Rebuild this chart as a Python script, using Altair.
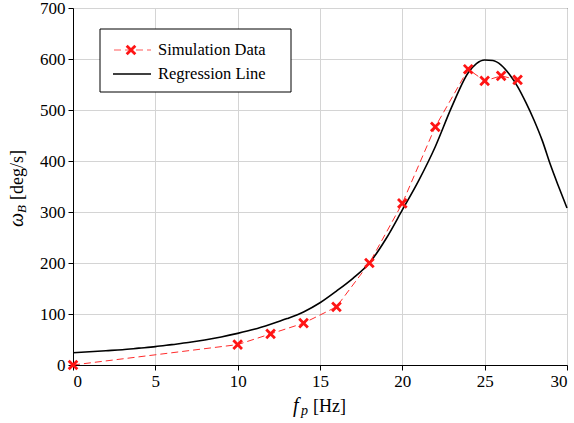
import altair as alt
import pandas as pd

# Simulation data
sim_f = [0, 10, 12, 14, 16, 18, 20, 22, 24, 25, 26, 27]
sim_w = [0, 40, 61, 82, 114, 200, 317, 467, 580, 557, 567, 559]

# Regression line samples
reg_f = [0, 1, 2, 3, 4, 5, 6, 7, 8, 9, 10, 11, 12, 13, 14, 15, 16, 17, 18, 19,
         20, 21, 22, 23, 24, 24.5, 25, 25.5, 26, 26.5, 27, 27.5, 28, 28.5, 29, 29.5, 30]
reg_w = [24, 26, 28, 30, 33, 36, 40, 44, 49, 55, 62, 70, 80, 91, 104, 122, 145, 170, 200, 247,
         304, 362, 428, 506, 573, 591, 598, 597, 588, 570, 546, 515, 480, 440, 392, 349, 308]

legend_labels = ["Simulation Data", "Regression Line"]
x_ticks = [0, 5, 10, 15, 20, 25, 30]
y_ticks = [0, 100, 200, 300, 400, 500, 600, 700]

FONT = "Liberation Serif"
RED = "#ff1414"

sim = pd.DataFrame({"f": sim_f, "w": sim_w})
reg = pd.DataFrame({"f": reg_f, "w": reg_w})
one = pd.DataFrame({"a": [0]})

xs = alt.Scale(domain=[0, 30], nice=False, zero=False)
ys = alt.Scale(domain=[0, 700], nice=False)
xax = alt.Axis(values=x_ticks, title=None, grid=True, labelFont=FONT)
yax = alt.Axis(values=y_ticks, title=None, grid=True, labelFont=FONT)

reg_line = alt.Chart(reg).mark_line(color="black", strokeWidth=1.6, interpolate="monotone").encode(
    x=alt.X("f:Q", scale=xs, axis=xax),
    y=alt.Y("w:Q", scale=ys, axis=yax),
)

sim_line = alt.Chart(sim).mark_line(color=RED, strokeWidth=1, strokeDash=[7, 4], opacity=0.9).encode(
    x=alt.X("f:Q", scale=xs),
    y=alt.Y("w:Q", scale=ys),
)

CROSS = "M-1,-1L1,1M1,-1L-1,1"
sim_pts = alt.Chart(sim).mark_point(shape=CROSS, filled=False, color=RED, strokeWidth=2.8, size=75, opacity=1).encode(
    x=alt.X("f:Q", scale=xs),
    y=alt.Y("w:Q", scale=ys),
)

# Legend (manual)
box = alt.Chart(one).mark_rect(fill="white", stroke="black", strokeWidth=1).encode(
    x=alt.value(27), x2=alt.value(218), y=alt.value(21), y2=alt.value(84)
)
leg_l1 = alt.Chart(one).mark_rule(color=RED, strokeWidth=1.2, strokeDash=[7, 4], strokeDashOffset=-1, opacity=0.7).encode(
    x=alt.value(40), x2=alt.value(78), y=alt.value(42)
)
leg_p1 = alt.Chart(one).mark_point(shape=CROSS, filled=False, color=RED, strokeWidth=2.8, size=75, opacity=1).encode(
    x=alt.value(58), y=alt.value(42)
)
leg_l2 = alt.Chart(one).mark_rule(color="black", strokeWidth=1.6).encode(
    x=alt.value(40), x2=alt.value(78), y=alt.value(66)
)
leg_t1 = alt.Chart(one).mark_text(text=legend_labels[0], align="left", baseline="middle", font=FONT, fontSize=16.5, color="black").encode(
    x=alt.value(85), y=alt.value(42)
)
leg_t2 = alt.Chart(one).mark_text(text=legend_labels[1], align="left", baseline="middle", font=FONT, fontSize=16.5, color="black").encode(
    x=alt.value(85), y=alt.value(66)
)

# Axis titles with math italics
xt_f = alt.Chart(one).mark_text(text="f", align="left", baseline="alphabetic", font=FONT, fontStyle="italic", fontSize=20, color="black").encode(
    x=alt.value(220), y=alt.value(404))
xt_p = alt.Chart(one).mark_text(text="p", align="left", baseline="alphabetic", font=FONT, fontStyle="italic", fontSize=14, color="black").encode(
    x=alt.value(228), y=alt.value(407))
xt_u = alt.Chart(one).mark_text(text="[Hz]", align="left", baseline="alphabetic", font=FONT, fontSize=18, color="black").encode(
    x=alt.value(240), y=alt.value(404))

yt_w = alt.Chart(one).mark_text(text="ω", angle=270, align="left", baseline="alphabetic", font=FONT, fontStyle="italic", fontSize=20, color="black").encode(
    x=alt.value(-50), y=alt.value(219))
yt_b = alt.Chart(one).mark_text(text="B", angle=270, align="left", baseline="alphabetic", font=FONT, fontStyle="italic", fontSize=13, color="black").encode(
    x=alt.value(-47), y=alt.value(205))
yt_u = alt.Chart(one).mark_text(text="[deg/s]", angle=270, align="left", baseline="alphabetic", font=FONT, fontSize=18, color="black").encode(
    x=alt.value(-50), y=alt.value(192))

chart = alt.layer(
    reg_line, sim_line, sim_pts, box, leg_l1, leg_p1, leg_l2, leg_t1, leg_t2,
    xt_f, xt_p, xt_u, yt_w, yt_b, yt_u
).properties(
    width=494, height=357,
    padding={"left": 73, "top": 8, "right": 7, "bottom": 58},
    autosize=alt.AutoSizeParams(type="none"),
    background="white",
).configure(
    font=FONT
).configure_view(
    stroke="black", strokeWidth=1
).configure_axis(
    labelFont=FONT, labelFontSize=17, labelColor="black",
    domainColor="black", domainWidth=1,
    tickColor="black", tickSize=5, tickWidth=1,
    gridColor="#d4d4d4", gridWidth=1,
    labelPadding=3,
).configure_text(font=FONT)

chart.save("out.html", embed_options={"renderer": "svg", "actions": False})
